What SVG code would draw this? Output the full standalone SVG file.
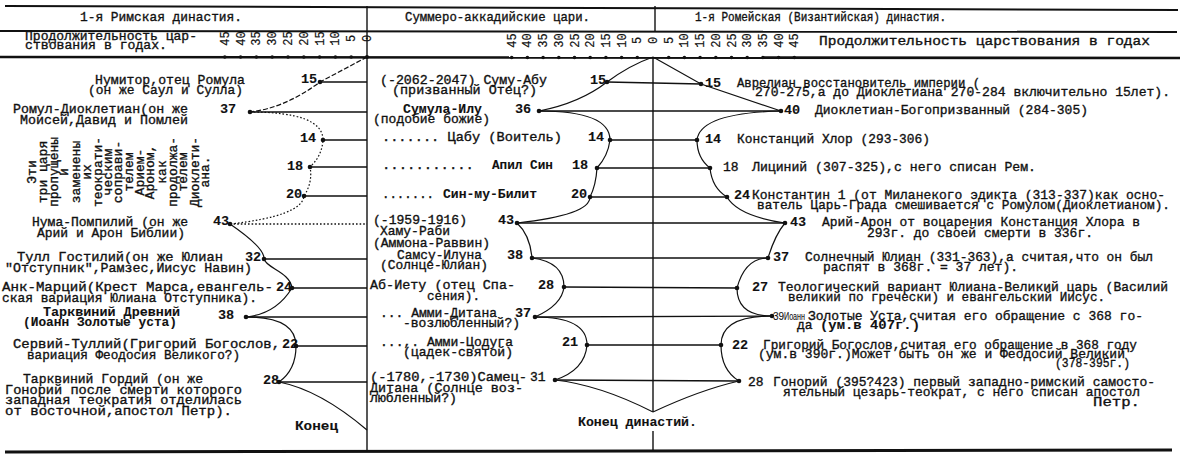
<svg xmlns="http://www.w3.org/2000/svg" width="1193" height="459" viewBox="0 0 1193 459">
<style>
text{font-family:"Liberation Mono","DejaVu Sans Mono",monospace;font-size:13px;fill:#111;stroke:#111;stroke-width:0.35}
.b{font-weight:bold;stroke-width:0.1}
.n{font-weight:bold;font-size:13.5px;stroke-width:0.1}
.ax{font-size:12px;stroke-width:0.2}
.hd{font-size:12.5px}
.sm{font-family:"Liberation Sans",Arial,sans-serif;font-size:10px;stroke-width:0.1}
.rule{stroke:#111;fill:none}
.ln{stroke:#111;stroke-width:1.3;fill:none}
.cv{stroke:#111;stroke-width:1.2;fill:none}
.dash{stroke-dasharray:5 2}
.dot2{stroke-dasharray:1.6 2}
.d{fill:#111}
.tk{fill:#111}
</style>
<rect width="1193" height="459" fill="#fff"/>

<g id="frame">
<line class="rule" x1="5" y1="6" x2="1178" y2="10" stroke-width="2"/>
<line class="rule" x1="0" y1="31" x2="1177" y2="32" stroke-width="2"/>
<line class="rule" x1="0" y1="57" x2="1180" y2="58" stroke-width="2.6"/>
<line class="rule" x1="5" y1="452" x2="1172" y2="450" stroke-width="3"/>
<line class="rule" x1="367" y1="6" x2="367" y2="452" stroke-width="1.4"/>
<line class="rule" x1="655" y1="6" x2="655" y2="32" stroke-width="1.4"/>
<line class="rule" x1="653" y1="57" x2="653" y2="412" stroke-width="1.4"/>
<line class="rule" x1="653" y1="431" x2="653" y2="451" stroke-width="1.4"/>
</g>

<g id="header">
<text x="80" y="21" textLength="162" lengthAdjust="spacingAndGlyphs">1-я Римская династия.</text>
<text x="405" y="20.5" textLength="185" lengthAdjust="spacingAndGlyphs">Суммеро-аккадийские цари.</text>
<text x="695" y="20.5" textLength="251" lengthAdjust="spacingAndGlyphs">1-я Ромейская (Византийская) династия.</text>
<text class="hd" x="25" y="40" textLength="172" lengthAdjust="spacingAndGlyphs">Продолжительность цар-</text>
<text class="hd" x="25" y="48.5" textLength="142" lengthAdjust="spacingAndGlyphs">ствования в годах.</text>
<text x="819" y="45" textLength="331" lengthAdjust="spacingAndGlyphs">Продолжительность царствования в годах</text>
</g>

<g id="axis-left">
<text class="ax" text-anchor="middle" transform="translate(371,38.5) rotate(-90)">0</text>
<text class="ax" text-anchor="middle" transform="translate(355.2,38.5) rotate(-90)">5</text>
<text class="ax" text-anchor="middle" transform="translate(339.4,38.5) rotate(-90)">10</text>
<text class="ax" text-anchor="middle" transform="translate(323.6,38.5) rotate(-90)">15</text>
<text class="ax" text-anchor="middle" transform="translate(307.8,38.5) rotate(-90)">20</text>
<text class="ax" text-anchor="middle" transform="translate(292,38.5) rotate(-90)">25</text>
<text class="ax" text-anchor="middle" transform="translate(276.2,38.5) rotate(-90)">30</text>
<text class="ax" text-anchor="middle" transform="translate(260.4,38.5) rotate(-90)">35</text>
<text class="ax" text-anchor="middle" transform="translate(244.6,38.5) rotate(-90)">40</text>
<text class="ax" text-anchor="middle" transform="translate(228.8,38.5) rotate(-90)">45</text>
<circle class="tk" cx="351.2" cy="57" r="1.8"/><circle class="tk" cx="335.4" cy="57" r="1.8"/>
<circle class="tk" cx="319.6" cy="57" r="1.8"/><circle class="tk" cx="303.8" cy="57" r="1.8"/>
<circle class="tk" cx="288" cy="57" r="1.8"/><circle class="tk" cx="272.2" cy="57" r="1.8"/>
<circle class="tk" cx="256.4" cy="57" r="1.8"/><circle class="tk" cx="240.6" cy="57" r="1.8"/>
<circle class="tk" cx="224.8" cy="57" r="1.8"/><circle class="tk" cx="367" cy="57" r="2"/>
</g>

<g id="axis-middle">
<text class="ax" text-anchor="middle" transform="translate(657,40.5) rotate(-90)">0</text>
<text class="ax" text-anchor="middle" transform="translate(641.3,40.5) rotate(-90)">5</text>
<text class="ax" text-anchor="middle" transform="translate(625.6,40.5) rotate(-90)">10</text>
<text class="ax" text-anchor="middle" transform="translate(609.9,40.5) rotate(-90)">15</text>
<text class="ax" text-anchor="middle" transform="translate(594.2,40.5) rotate(-90)">20</text>
<text class="ax" text-anchor="middle" transform="translate(578.5,40.5) rotate(-90)">25</text>
<text class="ax" text-anchor="middle" transform="translate(562.8,40.5) rotate(-90)">30</text>
<text class="ax" text-anchor="middle" transform="translate(547.1,40.5) rotate(-90)">35</text>
<text class="ax" text-anchor="middle" transform="translate(531.4,40.5) rotate(-90)">40</text>
<text class="ax" text-anchor="middle" transform="translate(515.7,40.5) rotate(-90)">45</text>
<text class="ax" text-anchor="middle" transform="translate(672.7,40.5) rotate(-90)">5</text>
<text class="ax" text-anchor="middle" transform="translate(688.4,40.5) rotate(-90)">10</text>
<text class="ax" text-anchor="middle" transform="translate(704.1,40.5) rotate(-90)">15</text>
<text class="ax" text-anchor="middle" transform="translate(719.8,40.5) rotate(-90)">20</text>
<text class="ax" text-anchor="middle" transform="translate(735.5,40.5) rotate(-90)">25</text>
<text class="ax" text-anchor="middle" transform="translate(751.2,40.5) rotate(-90)">30</text>
<text class="ax" text-anchor="middle" transform="translate(766.9,40.5) rotate(-90)">35</text>
<text class="ax" text-anchor="middle" transform="translate(782.6,40.5) rotate(-90)">40</text>
<text class="ax" text-anchor="middle" transform="translate(798.3,40.5) rotate(-90)">45</text>
<circle class="tk" cx="637.3" cy="57.5" r="1.8"/><circle class="tk" cx="621.6" cy="57.5" r="1.8"/>
<circle class="tk" cx="605.9" cy="57.5" r="1.8"/><circle class="tk" cx="590.2" cy="57.5" r="1.8"/>
<circle class="tk" cx="574.5" cy="57.5" r="1.8"/><circle class="tk" cx="558.8" cy="57.5" r="1.8"/>
<circle class="tk" cx="543.1" cy="57.5" r="1.8"/><circle class="tk" cx="527.4" cy="57.5" r="1.8"/>
<circle class="tk" cx="511.7" cy="57.5" r="1.8"/>
<circle class="tk" cx="668.7" cy="57.5" r="1.8"/><circle class="tk" cx="684.4" cy="57.5" r="1.8"/>
<circle class="tk" cx="700.1" cy="57.5" r="1.8"/><circle class="tk" cx="715.8" cy="57.5" r="1.8"/>
<circle class="tk" cx="731.5" cy="57.5" r="1.8"/><circle class="tk" cx="747.2" cy="57.5" r="1.8"/>
<circle class="tk" cx="762.9" cy="57.5" r="1.8"/><circle class="tk" cx="778.6" cy="57.5" r="1.8"/>
<circle class="tk" cx="794.3" cy="57.5" r="1.8"/>
</g>

<g id="connectors">
<path class="ln" d="M320,82H367M250,112H367M323,140H367M310,167H367M304,196H367M264,259H367M292,288H367M246,317H367M296,346H367M279,382H367"/>
<path class="ln dot2" d="M230,224H367"/>
<path class="cv dash" d="M367,57 L320,82 Q285,108 250,112"/>
<path class="cv dot2" d="M250,112 Q323,112 323,140 Q322,156 310,167 Q313,182 304,196 Q302,216 230,224"/>
<path class="cv" d="M230,224 Q265,248 264,259 C266,268 290,272 292,288 Q276,314 246,317 Q296,317 296,346 Q296,370 279,382 Q320,390 367,430"/>
<path class="ln" d="M607,82L701,84M539,111H781M610,140H697M597,168H710M590,197H727M517,223H785M532,258H768M564,287L737,288M535,317L772,316M587,345H721M555,380L739,381"/>
<path class="cv" d="M653,57 Q630,65 607,82 Q580,103 539,111 Q610,111 610,140 Q608,156 597,168 Q596,185 590,197 Q590,215 517,223 Q530,235 532,258 Q564,262 564,287 Q562,305 535,317 Q587,317 587,345 Q585,370 555,380 Q600,385 653,412"/>
<path class="cv" d="M653,57 L701,84 L781,111 Q700,113 697,140 Q697,158 710,168 Q712,188 727,197 Q738,216 785,223 Q775,235 768,258 Q745,258 737,288 Q737,316 772,316 Q721,316 721,345 Q721,370 739,381 Q700,390 653,412"/>
</g>

<g id="dots">
<circle class="d" cx="320" cy="82" r="2.3"/><circle class="d" cx="250" cy="112" r="2.3"/>
<circle class="d" cx="323" cy="140" r="2.3"/><circle class="d" cx="310" cy="167" r="2.3"/>
<circle class="d" cx="304" cy="196" r="2.3"/><circle class="d" cx="230" cy="224" r="2.3"/>
<circle class="d" cx="264" cy="259" r="2.3"/><circle class="d" cx="292" cy="288" r="2.3"/>
<circle class="d" cx="246" cy="317" r="2.3"/><circle class="d" cx="296" cy="346" r="2.3"/>
<circle class="d" cx="279" cy="382" r="2.3"/>
<circle class="d" cx="607" cy="82" r="2.3"/><circle class="d" cx="539" cy="111" r="2.3"/>
<circle class="d" cx="610" cy="140" r="2.3"/><circle class="d" cx="597" cy="168" r="2.3"/>
<circle class="d" cx="590" cy="197" r="2.3"/><circle class="d" cx="517" cy="223" r="2.3"/>
<circle class="d" cx="532" cy="258" r="2.3"/><circle class="d" cx="564" cy="287" r="2.3"/>
<circle class="d" cx="535" cy="317" r="2.3"/><circle class="d" cx="587" cy="345" r="2.3"/>
<circle class="d" cx="555" cy="380" r="2.3"/>
<circle class="d" cx="701" cy="84" r="2.3"/><circle class="d" cx="781" cy="111" r="2.3"/>
<circle class="d" cx="697" cy="140" r="2.3"/><circle class="d" cx="710" cy="168" r="2.3"/>
<circle class="d" cx="727" cy="197" r="2.3"/><circle class="d" cx="785" cy="223" r="2.3"/>
<circle class="d" cx="768" cy="258" r="2.3"/><circle class="d" cx="737" cy="288" r="2.3"/>
<circle class="d" cx="772" cy="316" r="2.3"/><circle class="d" cx="721" cy="345" r="2.3"/>
<circle class="d" cx="739" cy="381" r="2.3"/>
</g>

<g id="left-labels">
<g id="l-numitor"><text x="95" y="83.5" textLength="150" lengthAdjust="spacingAndGlyphs">Нумитор,отец Ромула</text><text x="88" y="94" textLength="155" lengthAdjust="spacingAndGlyphs">(он же Саул и Сулла)</text><text class="n" x="301" y="83">15</text></g>
<g id="l-romul"><text x="13" y="113" textLength="175" lengthAdjust="spacingAndGlyphs">Ромул-Диоклетиан(он же</text><text x="20" y="124" textLength="168" lengthAdjust="spacingAndGlyphs">Моисей,Давид и Помлей</text><text class="n" x="220" y="113">37</text></g>
<g id="l-14"><text class="n" x="300" y="142">14</text></g>
<g id="l-18"><text class="n" x="287" y="170">18</text></g>
<g id="l-20"><text class="n" x="286" y="198">20</text></g>
<g id="l-note">
<text text-anchor="middle" transform="translate(36,172) rotate(-90)">Эти</text>
<text text-anchor="middle" transform="translate(47,172) rotate(-90)">три царя</text>
<text text-anchor="middle" transform="translate(58,172) rotate(-90)">пропущены</text>
<text text-anchor="middle" transform="translate(68,172) rotate(-90)">и</text>
<text text-anchor="middle" transform="translate(80,172) rotate(-90)">заменены</text>
<text text-anchor="middle" transform="translate(91,172) rotate(-90)">их</text>
<text text-anchor="middle" transform="translate(102,172) rotate(-90)">теократи-</text>
<text text-anchor="middle" transform="translate(112,172) rotate(-90)">ческим</text>
<text text-anchor="middle" transform="translate(122,172) rotate(-90)">соправи-</text>
<text text-anchor="middle" transform="translate(133,172) rotate(-90)">телем</text>
<text text-anchor="middle" transform="translate(144,172) rotate(-90)">Арием-</text>
<text text-anchor="middle" transform="translate(154,172) rotate(-90)">Ароном,</text>
<text text-anchor="middle" transform="translate(166,172) rotate(-90)">как</text>
<text text-anchor="middle" transform="translate(177,172) rotate(-90)">продолжа-</text>
<text text-anchor="middle" transform="translate(187,172) rotate(-90)">телем</text>
<text text-anchor="middle" transform="translate(199,172) rotate(-90)">Диоклети-</text>
<text text-anchor="middle" transform="translate(209,172) rotate(-90)">ана.</text>
</g>
<g id="l-numa"><text x="32" y="226" textLength="156" lengthAdjust="spacingAndGlyphs">Нума-Помпилий (он же</text><text x="37" y="237" textLength="148" lengthAdjust="spacingAndGlyphs">Арий и Арон Библии)</text><text class="n" x="213" y="225">43</text></g>
<g id="l-tull"><text x="17" y="261" textLength="206" lengthAdjust="spacingAndGlyphs">Тулл Гостилий(он же Юлиан</text><text x="5" y="271.5" textLength="247" lengthAdjust="spacingAndGlyphs">"Отступник",Рамзес,Иисус Навин)</text><text class="n" x="245" y="261">32</text></g>
<g id="l-ank"><text x="2" y="291" textLength="271" lengthAdjust="spacingAndGlyphs">Анк-Марций(Крест Марса,евангель-</text><text x="2" y="301.5" textLength="255" lengthAdjust="spacingAndGlyphs">ская вариация Юлиана Отступника).</text><text class="n" x="276" y="291">24</text></g>
<g id="l-tarq1"><text class="b" x="43" y="316" textLength="137" lengthAdjust="spacingAndGlyphs">Тарквиний Древний</text><text class="b" x="23" y="326" textLength="154" lengthAdjust="spacingAndGlyphs">(Иоанн Золотые уста)</text><text class="n" x="218" y="319">38</text></g>
<g id="l-servius"><text x="13" y="348" textLength="267" lengthAdjust="spacingAndGlyphs">Сервий-Туллий(Григорий Богослов,</text><text x="27" y="358.5" textLength="213" lengthAdjust="spacingAndGlyphs">вариация Феодосия Великого?)</text><text class="n" x="282" y="348">22</text></g>
<g id="l-tarq2"><text x="23" y="383" textLength="180" lengthAdjust="spacingAndGlyphs">Тарквиний Гордий (он же</text><text x="5" y="393.5" textLength="237" lengthAdjust="spacingAndGlyphs">Гонорий после смерти которого</text><text x="5" y="404" textLength="237" lengthAdjust="spacingAndGlyphs">западная теократия отделилась</text><text x="5" y="414.5" textLength="227" lengthAdjust="spacingAndGlyphs">от восточной,апостол Петр).</text><text class="n" x="263" y="384">28</text></g>
<g id="l-end"><text class="b" x="295" y="430" textLength="43" lengthAdjust="spacingAndGlyphs">Конец</text></g>
</g>

<g id="middle-labels">
<g id="m-sumuabu"><text x="380" y="84" textLength="167" lengthAdjust="spacingAndGlyphs">(-2062-2047) Суму-Абу</text><text x="392" y="94" textLength="145" lengthAdjust="spacingAndGlyphs">(призванный Отец?)</text><text class="n" x="590" y="84">15</text></g>
<g id="m-sumula"><text class="b" x="403" y="112.5" textLength="79" lengthAdjust="spacingAndGlyphs">Сумула-Илу</text><text x="373" y="122.5" textLength="117" lengthAdjust="spacingAndGlyphs">(подобие божие)</text><text class="n" x="515" y="112.5">36</text></g>
<g id="m-tsabu"><text x="382" y="141" textLength="180" lengthAdjust="spacingAndGlyphs">....... Цабу (Воитель)</text><text class="n" x="588" y="141">14</text></g>
<g id="m-apil"><text x="382" y="169" textLength="92" lengthAdjust="spacingAndGlyphs">...........</text><text class="b" x="492" y="169" textLength="61" lengthAdjust="spacingAndGlyphs">Апил Син</text><text class="n" x="572" y="169">18</text></g>
<g id="m-sinmu"><text x="382" y="197.5" textLength="52" lengthAdjust="spacingAndGlyphs">.......</text><text class="b" x="443" y="197.5" textLength="94" lengthAdjust="spacingAndGlyphs">Син-му-Билит</text><text class="n" x="571" y="197.5">20</text></g>
<g id="m-hamu"><text x="373" y="224" textLength="94" lengthAdjust="spacingAndGlyphs">(-1959-1916)</text><text x="380" y="235" textLength="70" lengthAdjust="spacingAndGlyphs">Хаму-Раби</text><text x="373" y="247" textLength="117" lengthAdjust="spacingAndGlyphs">(Аммона-Раввин)</text><text class="n" x="498" y="224">43</text></g>
<g id="m-samsu"><text x="397" y="259" textLength="85" lengthAdjust="spacingAndGlyphs">Самсу-Илуна</text><text x="380" y="269" textLength="108" lengthAdjust="spacingAndGlyphs">(Солнце-Юлиан)</text><text class="n" x="507" y="259">38</text></g>
<g id="m-abietu"><text x="370" y="289" textLength="145" lengthAdjust="spacingAndGlyphs">Аб-Иету (отец Спа-</text><text x="427" y="299.5" textLength="53" lengthAdjust="spacingAndGlyphs">сения).</text><text class="n" x="538" y="289">28</text></g>
<g id="m-ammiditana"><text x="380" y="317" textLength="117" lengthAdjust="spacingAndGlyphs">... Амми-Дитана</text><text x="403" y="327" textLength="117" lengthAdjust="spacingAndGlyphs">-возлюбленный?)</text><text class="n" x="515" y="317">37</text></g>
<g id="m-ammitsoduga"><text x="380" y="346" textLength="133" lengthAdjust="spacingAndGlyphs">...,. Амми-Цодуга</text><text x="403" y="356" textLength="110" lengthAdjust="spacingAndGlyphs">(цадек-святой)</text><text class="n" x="562" y="346">21</text></g>
<g id="m-samsuditana"><text x="370" y="381" textLength="157" lengthAdjust="spacingAndGlyphs">(-1780,-1730)Самец-</text><text x="370" y="391.5" textLength="153" lengthAdjust="spacingAndGlyphs">Дитана (Солнце воз-</text><text x="370" y="402" textLength="87" lengthAdjust="spacingAndGlyphs">любленный?)</text><text x="530" y="381">31</text></g>
<g id="m-end"><rect x="646" y="414" width="14" height="16" fill="#fff"/><text class="b" x="578" y="426" textLength="119" lengthAdjust="spacingAndGlyphs">Конец династий.</text></g>
</g>

<g id="right-labels">
<g id="r-aurelian"><text class="n" x="705" y="87">15</text><text x="737" y="87" textLength="243" lengthAdjust="spacingAndGlyphs">Аврелиан восстановитель империи (</text><text x="755" y="96" textLength="415" lengthAdjust="spacingAndGlyphs">270-275,а до Диоклетиана 270-284 включительно 15лет).</text></g>
<g id="r-diocl"><text class="n" x="784" y="114">40</text><text x="815" y="114" textLength="273" lengthAdjust="spacingAndGlyphs">Диоклетиан-Богопризванный (284-305)</text></g>
<g id="r-chlor"><text class="n" x="705" y="143">14</text><text x="737" y="143" textLength="193" lengthAdjust="spacingAndGlyphs">Констанций Хлор (293-306)</text></g>
<g id="r-licin"><text x="723" y="171">18</text><text x="752" y="171" textLength="284" lengthAdjust="spacingAndGlyphs">Лициний (307-325),с него списан Рем.</text></g>
<g id="r-constantine"><text class="n" x="734" y="199">24</text><text x="752" y="199" textLength="413" lengthAdjust="spacingAndGlyphs">Константин 1 (от Миланекого эдикта (313-337)как осно-</text><text x="757" y="209" textLength="413" lengthAdjust="spacingAndGlyphs">ватель Царь-Града смешивается с Ромулом(Диоклетианом).</text></g>
<g id="r-arius"><text class="n" x="790" y="226">43</text><text x="822" y="226" textLength="318" lengthAdjust="spacingAndGlyphs">Арий-Арон от воцарения Констанция Хлора в</text><text x="867" y="237" textLength="226" lengthAdjust="spacingAndGlyphs">293г. до своей смерти в 336г.</text></g>
<g id="r-julian"><text class="n" x="773" y="261">37</text><text x="805" y="261" textLength="348" lengthAdjust="spacingAndGlyphs">Солнечный Юлиан (331-363),а считая,что он был</text><text x="823" y="271" textLength="195" lengthAdjust="spacingAndGlyphs">распят в 368г. = 37 лет).</text></g>
<g id="r-theol"><text class="n" x="752" y="291">27</text><text x="778" y="291" textLength="390" lengthAdjust="spacingAndGlyphs">Теологический вариант Юлиана-Великий царь (Василий</text><text x="788" y="301" textLength="317" lengthAdjust="spacingAndGlyphs">великий по гречески) и евангельский Иисус.</text></g>
<g id="r-chrys"><text class="sm" x="773" y="319.5">39</text><text class="sm" x="784" y="319.5" textLength="21" lengthAdjust="spacingAndGlyphs">Иоанн</text><text x="808" y="319.5" textLength="335" lengthAdjust="spacingAndGlyphs">Золотые Уста,считая его обращение с 368 го-</text><text x="797" y="328.5">да</text><text class="b" x="820" y="328.5" textLength="100" lengthAdjust="spacingAndGlyphs">(ум.в 407г.)</text></g>
<g id="r-greg"><text class="n" x="732" y="348.5">22</text><text x="763" y="348.5" textLength="374" lengthAdjust="spacingAndGlyphs">Григорий Богослов,считая его обращение в 368 году</text><text x="758" y="357.5" textLength="367" lengthAdjust="spacingAndGlyphs">(ум.в 390г.)Может быть он же и Феодосий Великий</text><text x="1055" y="366.5" textLength="75" lengthAdjust="spacingAndGlyphs">(378-395г.)</text></g>
<g id="r-honor"><text x="748" y="385.5">28</text><text x="773" y="385.5" textLength="382" lengthAdjust="spacingAndGlyphs">Гонорий (395?423) первый западно-римский самосто-</text><text x="783" y="395.5" textLength="357" lengthAdjust="spacingAndGlyphs">ятельный цезарь-теократ, с него списан апостол</text><text x="1093" y="405.5" textLength="47" lengthAdjust="spacingAndGlyphs">Петр.</text></g>
</g>
</svg>
